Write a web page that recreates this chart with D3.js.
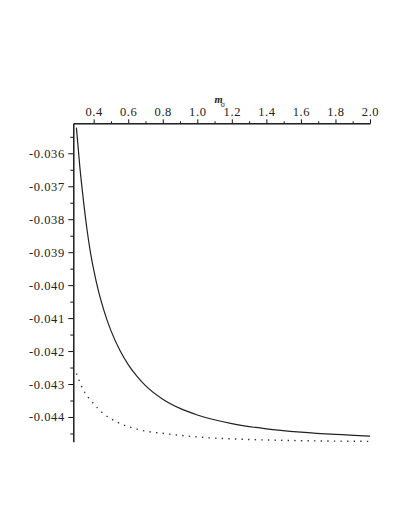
<!DOCTYPE html>
<html>
<head>
<meta charset="utf-8">
<script src="https://cdn.jsdelivr.net/npm/d3@7"></script>
<style>
body { margin: 0; background: #fff; }
svg { display: block; }
.tick text { font-family: "Liberation Serif", serif; font-size: 12.5px; letter-spacing: 0.6px; fill: #222; }
</style>
</head>
<body>
<svg id="chart" width="409" height="529"></svg>
<script>
// values
var m_solid = [0.30, 0.32, 0.34, 0.36, 0.38, 0.40, 0.43, 0.46, 0.50, 0.55, 0.60, 0.65, 0.70, 0.80, 0.90, 1.0, 1.2, 1.4, 1.6, 1.8, 2.0];
var v_solid = [-0.03522, -0.03642, -0.03740, -0.03826, -0.03897, -0.03953, -0.04023, -0.04078, -0.04138, -0.04196, -0.04241, -0.04276, -0.04305, -0.04346, -0.04374, -0.04394, -0.04420, -0.04436, -0.04446, -0.04453, -0.04458];

var m_dotted = [0.30, 0.34, 0.39, 0.455, 0.55, 0.65, 0.84, 1.035, 1.23, 1.42, 1.61, 2.0];
var v_dotted = [-0.04268, -0.04318, -0.04354, -0.04389, -0.04419, -0.04437, -0.04452, -0.04462, -0.04467, -0.04470, -0.04472, -0.04474];

var x_major = [0.4, 0.6, 0.8, 1.0, 1.2, 1.4, 1.6, 1.8, 2.0];
var x_minor = [0.5, 0.7, 0.9, 1.1, 1.3, 1.5, 1.7, 1.9];
var y_major = [-0.044, -0.043, -0.042, -0.041, -0.040, -0.039, -0.038, -0.037, -0.036];
var y_minor = [-0.0445, -0.0435, -0.0425, -0.0415, -0.0405, -0.0395, -0.0385, -0.0375, -0.0365, -0.0355];

var svg = d3.select("#chart");

var x = d3.scaleLinear().domain([0.282, 2.0]).range([73.3, 370]);
var y = d3.scaleLinear().domain([-0.04475, -0.03509]).range([441.7, 123.3]);

var x_top = y.range()[1], y_left = x.range()[0];

// curves
var line = d3.line()
  .x(function(d) { return x(d[0]); })
  .y(function(d) { return y(d[1]); })
  .curve(d3.curveMonotoneX);

svg.append("path")
  .datum(d3.zip(m_dotted, v_dotted))
  .attr("d", line)
  .style("fill", "none")
  .style("stroke", "#333")
  .style("stroke-width", 1.4)
  .style("stroke-dasharray", "1.4,5.2");

svg.append("path")
  .datum(d3.zip(m_solid, v_solid))
  .attr("d", line)
  .style("fill", "none")
  .style("stroke", "#222")
  .style("stroke-width", 1.2);

// x axis on top
svg.append("g")
  .attr("transform", "translate(0," + x_top + ")")
  .call(d3.axisTop(x).tickValues(x_minor).tickSize(2).tickSizeOuter(0).tickFormat(""));
svg.append("g")
  .attr("transform", "translate(0," + x_top + ")")
  .call(d3.axisTop(x).tickValues(x_major).tickSize(4).tickSizeOuter(0).tickPadding(3.3)
    .tickFormat(function(d) { return d.toFixed(1); }));

// y axis
svg.append("g")
  .attr("transform", "translate(" + y_left + ",0)")
  .call(d3.axisLeft(y).tickValues(y_minor).tickSize(3).tickSizeOuter(0).tickFormat(""));
svg.append("g")
  .attr("transform", "translate(" + y_left + ",0)")
  .call(d3.axisLeft(y).tickValues(y_major).tickSize(5).tickSizeOuter(0).tickPadding(3.5)
    .tickFormat(function(d) { return d.toFixed(3); }));

svg.selectAll(".domain, .tick line").style("stroke", "#111").style("stroke-width", 1);

// axis title m_sigma
var title = svg.append("text")
  .attr("x", 214.5)
  .attr("y", 103.3)
  .style("font-family", "'Liberation Serif', serif")
  .style("fill", "#222");
title.append("tspan")
  .style("font-style", "italic")
  .style("font-weight", "bold")
  .style("font-size", "10.5px")
  .text("m");
title.append("tspan")
  .attr("dy", 3.5)
  .attr("dx", -2)
  .style("font-size", "8px")
  .text("σ");
</script>
</body>
</html>
